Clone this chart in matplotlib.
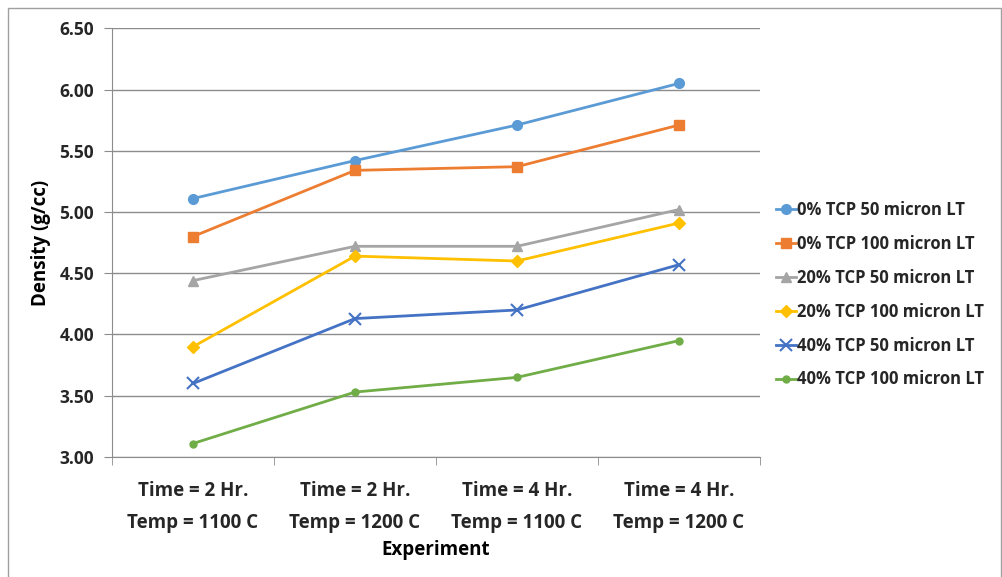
import matplotlib.pyplot as plt
from matplotlib.patches import Rectangle

# density measurements for each experiment condition
experiments = ['Time = 2 Hr.\nTemp = 1100 C', 'Time = 2 Hr.\nTemp = 1200 C',
               'Time = 4 Hr.\nTemp = 1100 C', 'Time = 4 Hr.\nTemp = 1200 C']
labels = ['0% TCP 50 micron LT', '0% TCP 100 micron LT', '20% TCP 50 micron LT',
          '20% TCP 100 micron LT', '40% TCP 50 micron LT', '40% TCP 100 micron LT']
tcp0_50 = [5.11, 5.42, 5.71, 6.05]
tcp0_100 = [4.80, 5.34, 5.37, 5.71]
tcp20_50 = [4.44, 4.72, 4.72, 5.02]
tcp20_100 = [3.90, 4.64, 4.60, 4.91]
tcp40_50 = [3.60, 4.13, 4.20, 4.57]
tcp40_100 = [3.11, 3.53, 3.65, 3.95]
yticks = [3.0, 3.5, 4.0, 4.5, 5.0, 5.5, 6.0, 6.5]

series = [tcp0_50, tcp0_100, tcp20_50, tcp20_100, tcp40_50, tcp40_100]
colors = ['#5B9BD5', '#ED7D31', '#A5A5A5', '#FFC000', '#4472C4', '#70AD47']
markers = ['o', 's', '^', 'D', 'x', 'o']
msizes = [7, 7, 7, 6, 8, 5]

plt.rcParams['font.family'] = ['Open Sans', 'DejaVu Sans']
plt.rcParams['font.weight'] = 'bold'
plt.rcParams['axes.labelweight'] = 'bold'
plt.rcParams['text.color'] = '#262626'

fig = plt.figure(figsize=(10.03, 5.77), dpi=100)
fig.patches.append(Rectangle((0.008, -0.01), 0.99, 0.996, transform=fig.transFigure,
                             fill=False, edgecolor='#A0A0A0', lw=1))
ax = fig.add_axes([0.1117, 0.208, 0.646, 0.743])

x = range(len(experiments))
for vals, lab, c, m, ms in zip(series, labels, colors, markers, msizes):
    ax.plot(x, vals, color=c, lw=2, marker=m, markersize=ms,
            markeredgewidth=1.5 if m == 'x' else 1, label=lab)

ax.set_xlim(-0.5, 3.5)
ax.set_ylim(3.0, 6.5)
ax.set_yticks(yticks)
ax.set_yticklabels(['%.2f' % v for v in yticks])
ax.yaxis.grid(True, color='#8C8C8C', lw=1)
ax.set_axisbelow(True)

ax.set_xticks(list(x))
ax.set_xticklabels(experiments, fontsize=13.5, linespacing=1.85)
ax.set_xticks([-0.5, 0.5, 1.5, 2.5, 3.5], minor=True)
ax.tick_params(axis='x', which='major', length=0, pad=17, labelcolor='#262626')
ax.tick_params(axis='x', which='minor', length=6, color='#8C8C8C')
ax.tick_params(axis='y', length=6, color='#8C8C8C', labelsize=12.5, pad=7,
               labelcolor='#262626')

for s in ['top', 'right']:
    ax.spines[s].set_visible(False)
for s in ['left', 'bottom']:
    ax.spines[s].set_color('#8C8C8C')

ax.set_xlabel('Experiment', fontsize=13.5, labelpad=5)
ax.set_ylabel('Density (g/cc)', fontsize=13.5, labelpad=6)

ax.legend(loc='center left', bbox_to_anchor=(0.774, 0.489),
          bbox_transform=fig.transFigure, frameon=False,
          fontsize=12, handlelength=1.2, handletextpad=0.05, labelspacing=0.95,
          borderaxespad=0, borderpad=0)

fig.savefig('out.png', dpi=100)
